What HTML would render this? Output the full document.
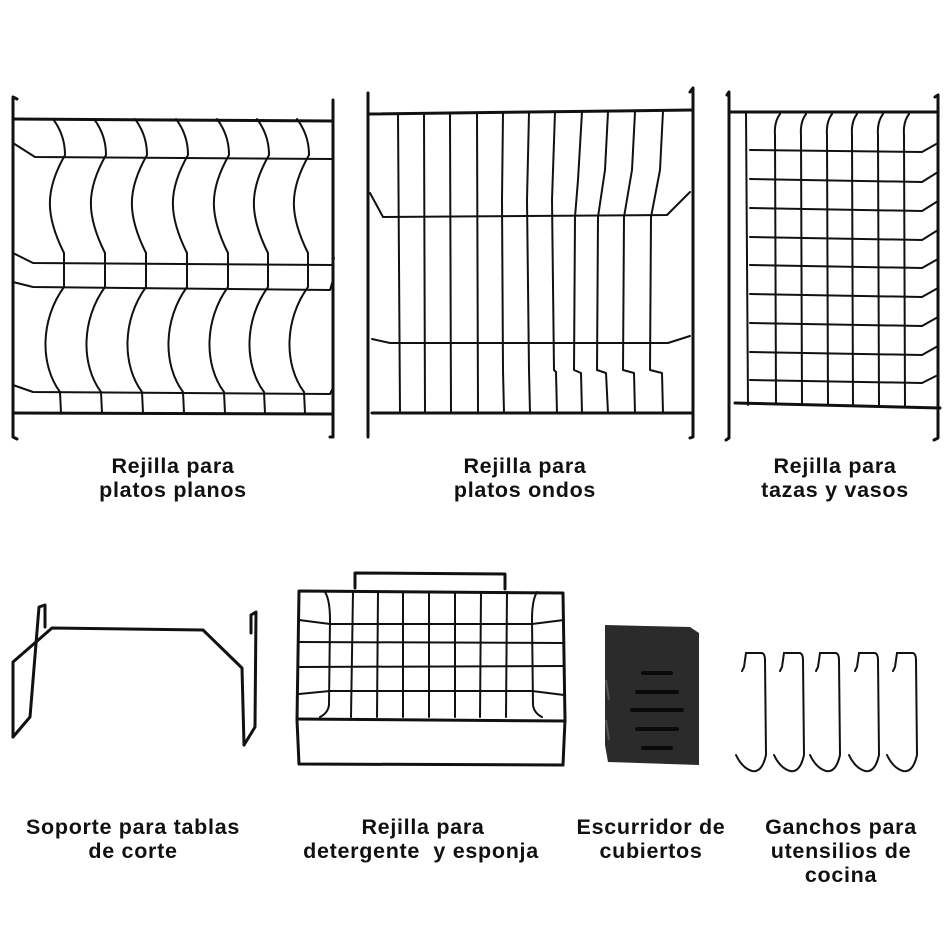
<!DOCTYPE html>
<html><head><meta charset="utf-8"><style>
html,body{margin:0;padding:0;background:#fff;}
svg{display:block;}
text{font-family:"Liberation Sans",sans-serif;font-weight:bold;font-size:21.5px;fill:#111;text-anchor:middle;letter-spacing:0.7px;}
</style></head><body>
<svg width="950" height="950" viewBox="0 0 950 950" xmlns="http://www.w3.org/2000/svg">
<g fill="none" stroke="#111" stroke-linecap="round" stroke-linejoin="round">
<!-- Rack 1 -->
<g stroke-width="3">
<path d="M17,99 L13,97 L13,437 L17,439"/>
<path d="M333,100 L333,437 L330,437"/>
<path d="M13,119 L333,121"/>
<path d="M13,413 L333,414"/>
</g>
<g stroke-width="2">
<path d="M13,143 L35,157 L332,159"/>
<path d="M13,253 L33,263 L332,265 L334,258"/>
<path d="M13,282 L33,287 L330,290 L333,280"/>
<path d="M13,385 L33,392 L330,394 L333,388"/>
<path id="w" d="M53,119 Q65,135 65,155 C45,190 45,215 64,253 L64,287 C40,320 40,365 60,392 L61,413"/>
<use href="#w" x="41"/><use href="#w" x="82"/><use href="#w" x="123"/><use href="#w" x="164"/><use href="#w" x="204"/><use href="#w" x="244"/>
</g>
<!-- Rack 2 -->
<g stroke-width="3">
<path d="M368,93 L368,437"/>
<path d="M690,92 L693,88 L693,437 L690,438"/>
<path d="M368,114 L693,110"/>
<path d="M372,413 L693,413"/>
</g>
<g stroke-width="2">
<path d="M370,193 L383,217 L667,215 L690,192"/>
<path d="M372,339 L390,343 L668,343 L690,336"/>
<path d="M398,114 L400,413"/>
<path d="M424,114 L425,413"/>
<path d="M450,114 L451,413"/>
<path d="M477,113 L478,413"/>
<path d="M503,113 L502,200 L503,370 L504,413"/>
<path d="M529,113 L527,200 L529,370 L530,413"/>
<path d="M555,112 L552,200 L554,370 L556,372 L557,413"/>
<path d="M582,112 L578,180 L575,217 L574,370 L581,373 L582,413"/>
<path d="M608,112 L605,170 L598,217 L597,370 L606,373 L608,413"/>
<path d="M635,112 L632,170 L624,217 L623,370 L634,373 L635,413"/>
<path d="M663,111 L660,170 L651,217 L650,370 L662,373 L663,413"/>
</g>
<!-- Rack 3 -->
<g stroke-width="3">
<path d="M727,95 L729,92 L729,438 L726,440"/>
<path d="M935,97 L938,95 L938,438 L934,440"/>
<path d="M731,112 L938,112"/>
<path d="M735,403 L940,408"/>
</g>
<g stroke-width="2">
<path d="M746,112 L748,405"/>
<path d="M750,150 L922,152 L938,143"/>
<path d="M750,179 L922,182 L938,172"/>
<path d="M750,208 L922,211 L938,201"/>
<path d="M750,237 L922,240 L938,230"/>
<path d="M750,265 L922,268 L938,259"/>
<path d="M750,294 L922,297 L938,288"/>
<path d="M750,323 L922,326 L938,317"/>
<path d="M750,352 L922,355 L938,346"/>
<path d="M750,380 L922,383 L938,375"/>
<path d="M780,114 Q774,122 775,135 L776,404"/>
<path d="M806,114 Q800,122 801,135 L802,405"/>
<path d="M832,114 Q826,122 827,135 L828,405"/>
<path d="M857,114 Q851,122 852,135 L853,406"/>
<path d="M883,114 Q877,122 878,135 L879,406"/>
<path d="M909,114 Q903,122 904,135 L905,407"/>
</g>
<!-- Stand -->
<g stroke-width="3">
<path d="M13,737 L13,662 L52,628 L203,630 L242,668 L244,745"/>
<path d="M13,737 L30,717 L39,607 L45,605 L45,627"/>
<path d="M244,745 L255,727 L256,612 L251,615 L251,633"/>
</g>
<!-- Detergent rack -->
<g stroke-width="3">
<path d="M355,588 L355,573 L505,574 L505,589"/>
<path d="M299,591 L563,593 L565,720 L563,765 L299,764 L297,720 Z"/>
<path d="M297,719 L565,721"/>
</g>
<g stroke-width="2">
<path d="M299,620 L330,624 L532,624 L564,620"/>
<path d="M299,642 L564,643"/>
<path d="M299,667 L564,666"/>
<path d="M299,694 L330,691 L532,691 L564,695"/>
<path d="M325,592 Q330,600 330,620 L329,705 Q328,713 320,717"/>
<path d="M353,592 L351,717"/>
<path d="M378,592 L377,717"/>
<path d="M403,592 L403,717"/>
<path d="M429,592 L429,717"/>
<path d="M455,592 L455,717"/>
<path d="M481,592 L480,717"/>
<path d="M507,592 L506,717"/>
<path d="M537,592 Q532,600 532,620 L533,705 Q534,713 542,717"/>
</g>
</g>
<!-- Knife block -->
<path d="M605,625 L690,627 L699,633 L699,765 L608,762 L605,745 Z" fill="#2b2b2b"/>
<path d="M606,680 L609,700 M606,720 L609,740" stroke="#555" stroke-width="2"/>
<g stroke="#0a0a0a" stroke-width="4" stroke-linecap="round">
<line x1="643" y1="673" x2="671" y2="673"/>
<line x1="637" y1="692" x2="677" y2="692"/>
<line x1="632" y1="710" x2="682" y2="710"/>
<line x1="637" y1="729" x2="677" y2="729"/>
<line x1="643" y1="748" x2="671" y2="748"/>
</g>
<!-- Hooks -->
<g fill="none" stroke="#111" stroke-width="2" stroke-linecap="round">
<path id="h" d="M742,671 L744,667 L746,653 L762,653 Q765,654 765,660 L766,755 Q762,773 752,771 Q742,768 736,755"/>
<use href="#h" x="38"/><use href="#h" x="74"/><use href="#h" x="113"/><use href="#h" x="151"/>
</g>
<!-- Labels -->
<text x="173" y="473">Rejilla para</text>
<text x="173" y="497">platos planos</text>
<text x="525" y="473">Rejilla para</text>
<text x="525" y="497">platos ondos</text>
<text x="835" y="473">Rejilla para</text>
<text x="835" y="497">tazas y vasos</text>
<text x="133" y="834">Soporte para tablas</text>
<text x="133" y="858">de corte</text>
<text x="423" y="834">Rejilla para</text>
<text x="421" y="858">detergente&#160; y esponja</text>
<text x="651" y="834">Escurridor de</text>
<text x="651" y="858">cubiertos</text>
<text x="841" y="834">Ganchos para</text>
<text x="841" y="858">utensilios de</text>
<text x="841" y="882">cocina</text>
</svg>
</body></html>
